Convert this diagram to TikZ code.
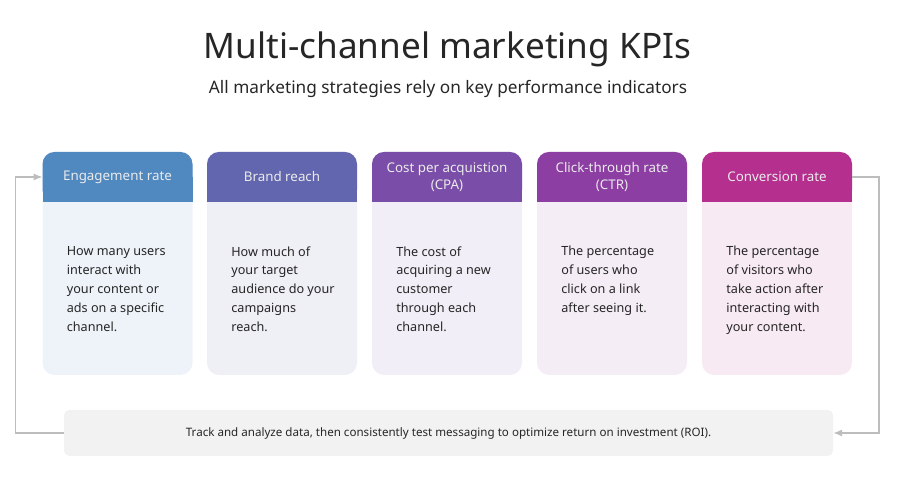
\documentclass[tikz,border=0pt]{standalone}
\usepackage{fontspec}
\setmainfont{Noto Sans}
\usepackage{xcolor}
\usepackage{tikz}
\usetikzlibrary{arrows.meta, positioning, backgrounds, calc}

\definecolor{head1}{HTML}{5088C0}
\definecolor{head2}{HTML}{6266AE}
\definecolor{head3}{HTML}{7A4EA8}
\definecolor{head4}{HTML}{8C3EA2}
\definecolor{head5}{HTML}{B5308E}
\definecolor{body1}{HTML}{EEF3FA}
\definecolor{body2}{HTML}{EFEFF6}
\definecolor{body3}{HTML}{F1EEF7}
\definecolor{body4}{HTML}{F5EDF6}
\definecolor{body5}{HTML}{F8EAF3}
\definecolor{inkdark}{HTML}{262626}
\definecolor{barfill}{HTML}{F2F2F2}
\definecolor{loopgray}{HTML}{BDBDBD}

\begin{document}
\begin{tikzpicture}[
            head_text/.style={rectangle, minimum width=3cm, minimum height=1cm, outer sep=0pt,
            align=center, text=white!92!black, font=\fontsize{7.6}{9.4}\selectfont},
            card_body/.style={rectangle, minimum width=3cm, minimum height=3.46cm, outer sep=0pt, inner sep=0pt},
            desc_text/.style={inner sep=0pt, align=left, text=inkdark, font=\fontsize{7.2}{10.8}\selectfont},
            bar_box/.style={rectangle, rounded corners=3pt, fill=barfill, minimum width=15.38cm,
            minimum height=0.92cm, text=inkdark, font=\fontsize{6.6}{8}\selectfont},
            loop_arrow/.style={-{Latex[length=5pt, width=4pt]}, loopgray, line width=0.7pt}
        ]

            \useasboundingbox (0,0) rectangle (18,10);

            % Title
            \node[text=inkdark, font=\fontsize{20}{24}\selectfont] (title) at (8.95, 9.02) {Multi-channel marketing KPIs};
            \node[text=inkdark, font=\fontsize{9.8}{11}\selectfont] (subtitle) at (8.96, 8.22)
                {All marketing strategies rely on key performance indicators};

            % KPI cards
            \foreach \i/\x/\name/\desc in {
                1/2.35/{Engagement rate}/{How many users\\interact with\\your content or\\ads on a specific\\channel.},
                2/5.64/{Brand reach}/{How much of\\your target\\audience do your\\campaigns\\reach.},
                3/8.94/{Cost per acquistion\\(CPA)}/{The cost of\\acquiring a new\\customer\\through each\\channel.},
                4/12.24/{Click-through rate\\(CTR)}/{The percentage\\of users who\\click on a link\\after seeing it.},
                5/15.54/{Conversion rate}/{The percentage\\of visitors who\\take action after\\interacting with\\your content.}} {
                \node[head_text] (h\i) at (\x, 6.46) {\name};
                \node[card_body, below=0pt of h\i] (b\i) {};
                \node[desc_text, anchor=north west] (d\i) at ([xshift=0.48cm, yshift=-0.88cm]b\i.north west) {\desc};
                \begin{scope}[on background layer]
                    \fill[body\i, rounded corners=0.24cm] (h\i.north west) rectangle (b\i.south east);
                    \fill[head\i, rounded corners=0.24cm] (h\i.north west) rectangle (h\i.south east);
                    \fill[head\i] (h\i.west) rectangle (h\i.south east);
                \end{scope}
            }

            % Bottom bar
            \node[bar_box] (bar) at (8.97, 1.34)
                {Track and analyze data, then consistently test messaging to optimize return on investment (ROI).};

            % Feedback loop
            \draw[loop_arrow] (bar.west) -- ++(-0.96, 0) |- (h1.west);
            \draw[loop_arrow] (h5.east) -- ++(0.54, 0) |- (bar.east);

        \end{tikzpicture}
\end{document}
